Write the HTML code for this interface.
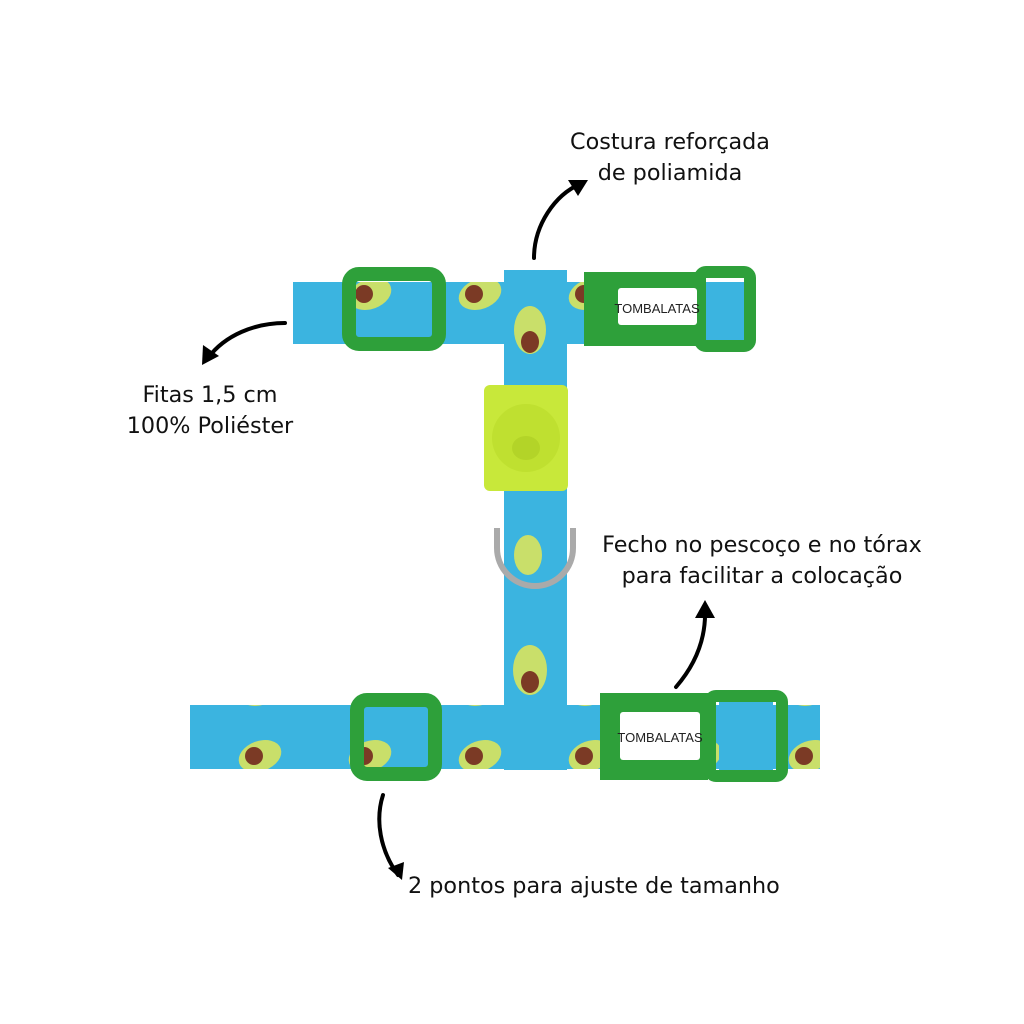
<!DOCTYPE html>
<html><head><style>
body{margin:0;background:#fff;width:1024px;height:1024px;overflow:hidden;position:relative;font-family:"DejaVu Sans","Liberation Sans",sans-serif;}
.t{position:absolute;font-size:22.3px;color:#111;text-align:center;line-height:31px;white-space:nowrap}
</style></head><body>
<svg width="1024" height="1024" style="position:absolute;left:0;top:0">
<defs>
<pattern id="av" width="110" height="66" patternUnits="userSpaceOnUse">
<rect width="110" height="66" fill="#3bb4e0"/>
<ellipse cx="40" cy="30" rx="22" ry="15" fill="#c9df6a" transform="rotate(-20 40 30)"/>
<ellipse cx="34" cy="30" rx="9" ry="9" fill="#7b3a25"/>
</pattern>
</defs>
<rect x="293" y="282" width="300" height="62" fill="url(#av)"/>
<rect x="700" y="282" width="48" height="62" fill="#3bb4e0"/>
<rect x="504" y="270" width="63" height="500" fill="#3bb4e0"/>
<ellipse cx="530" cy="330" rx="16" ry="24" fill="#c9df6a"/><ellipse cx="530" cy="342" rx="9" ry="11" fill="#7b3a25"/>
<ellipse cx="528" cy="555" rx="14" ry="20" fill="#c9df6a"/>
<ellipse cx="530" cy="670" rx="17" ry="25" fill="#c9df6a"/><ellipse cx="530" cy="682" rx="9" ry="11" fill="#7b3a25"/>
<rect x="349" y="274" width="90" height="70" rx="10" fill="none" stroke="#2ea03a" stroke-width="14"/>
<path d="M584 272 H700 V346 H584 Z" fill="#2ea03a"/>
<rect x="700" y="272" width="50" height="74" rx="6" fill="none" stroke="#2ea03a" stroke-width="12"/>
<rect x="618" y="288" width="79" height="37" rx="3" fill="#fff"/>
<text x="657" y="313" font-size="13" text-anchor="middle" font-family="Liberation Sans" fill="#222">TOMBALATAS</text>
<rect x="484" y="385" width="84" height="106" rx="6" fill="#c8e83a"/>
<circle cx="526" cy="438" r="34" fill="#bfe030"/>
<ellipse cx="526" cy="448" rx="14" ry="12" fill="#b3d428"/>
<path d="M497 528 V548 a30 30 0 0 0 76 0 V528" fill="none" stroke="#aaa" stroke-width="6"/>
<rect x="190" y="705" width="420" height="64" fill="url(#av)"/>
<rect x="700" y="705" width="120" height="64" fill="url(#av)"/>
<rect x="357" y="700" width="78" height="74" rx="10" fill="none" stroke="#2ea03a" stroke-width="14"/>
<path d="M600 693 H708 V780 H600 Z" fill="#2ea03a"/>
<rect x="710" y="696" width="72" height="80" rx="6" fill="none" stroke="#2ea03a" stroke-width="12"/>
<rect x="719" y="702" width="54" height="68" fill="#3bb4e0"/>
<rect x="620" y="712" width="80" height="48" rx="3" fill="#fff"/>
<text x="660" y="742" font-size="13" text-anchor="middle" font-family="Liberation Sans" fill="#222">TOMBALATAS</text>
<g fill="none" stroke="#000" stroke-width="4" stroke-linecap="round">
<path d="M534 258 C534 225 555 195 580 184"/>
<path d="M285 323 C255 323 225 335 208 358"/>
<path d="M676 687 C695 665 706 640 705 610"/>
<path d="M383 795 C375 820 380 850 398 875"/>
</g>
<g fill="#000">
<polygon points="588,180 568,180 578,196"/>
<polygon points="202,365 203,345 219,356"/>
<polygon points="705,600 695,618 715,618"/>
<polygon points="402,880 388,868 404,862"/>
</g>
</svg>
<div class="t" style="left:560px;top:127px;width:220px">Costura reforçada<br>de poliamida</div>
<div class="t" style="left:100px;top:380px;width:220px">Fitas 1,5 cm<br>100% Poliéster</div>
<div class="t" style="left:592px;top:530px;width:340px">Fecho no pescoço e no tórax<br>para facilitar a colocação</div>
<div class="t" style="left:408px;top:871px">2 pontos para ajuste de tamanho</div>
</body></html>
